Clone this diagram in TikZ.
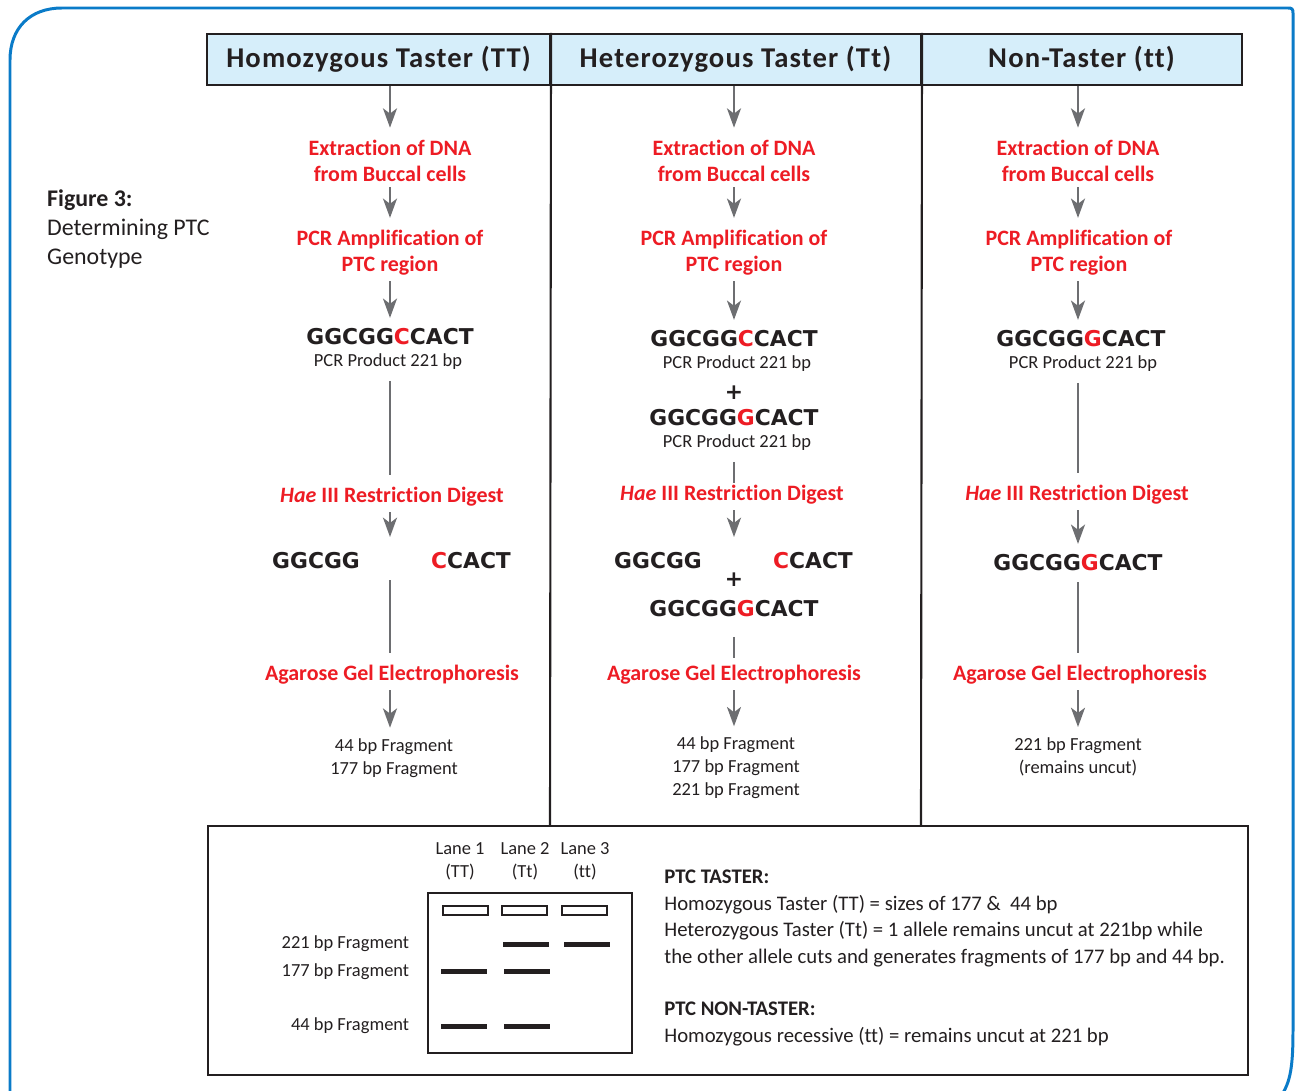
\documentclass[tikz,border=0pt]{standalone}
\usepackage{fontspec}
\setmainfont{Carlito}[Ligatures=CommonOff]
\newfontfamily\seqfont{DejaVu Sans}
\newfontfamily\headfont{Carlito}[LetterSpace=4, Ligatures=CommonOff]
\usetikzlibrary{shapes,arrows.meta}
\definecolor{ink}{HTML}{231F20}
\definecolor{snpred}{HTML}{ED1C24}
\definecolor{arrowgray}{HTML}{6D6E71}
\definecolor{headblue}{HTML}{D6EEFA}
\definecolor{frameblue}{HTML}{0A7BC8}
\newcommand{\dna}[1]{{\seqfont\bfseries #1}}
\newcommand{\snp}[1]{\textcolor{snpred}{#1}}
\tikzstyle{header} = [rectangle, draw=ink, line width=1.2pt, fill=headblue, minimum height=1.02cm, text=ink, font=\headfont\bfseries\fontsize{16.3}{19}\selectfont]
\tikzstyle{stage} = [align=center, text=snpred, inner sep=3pt, font=\bfseries\fontsize{12.5}{14.7}\selectfont]
\tikzstyle{seq} = [text=ink, inner sep=2pt, font=\seqfont\bfseries\fontsize{12.4}{14}\selectfont]
\tikzstyle{note} = [align=center, text=ink, inner sep=2pt, font=\fontsize{10.5}{13}\selectfont]
\tikzstyle{arrow} = [draw=arrowgray, line width=1.1pt, shorten >=4pt, -{Stealth[length=11pt,width=8pt,inset=3pt]}]
\tikzstyle{link} = [draw=arrowgray, line width=1.1pt, shorten <=4pt, shorten >=4pt]
\tikzstyle{frame} = [draw=ink, line width=1.2pt]
\begin{document}
\begin{tikzpicture}[x=0.02cm, y=-0.02cm]
    \useasboundingbox (0,0) rectangle (1296,1091);
    % outer border
    \begin{scope}
        \clip (0,0) rectangle (1296,1091);
        \draw[frameblue, line width=1.7pt] (10,1120) -- (10,60) .. controls (10,28) and (30,8) .. (62,8)
            -- (1288,8) .. controls (1292,8) and (1293,9) .. (1293,13) -- (1293,1030)
            .. controls (1293,1070) and (1290,1085) .. (1278,1100);
    \end{scope}

    \node[anchor=west, align=left, text=ink, font=\fontsize{13.6}{16.4}\selectfont] (caption) at (41,229)
        {\textbf{Figure 3:}\\Determining PTC\\Genotype};

    % Place nodes
    \node[header, minimum width=6.86cm] (h1) at (378.5,59.5) {Homozygous Taster (TT)};
    \node[header, minimum width=7.42cm] (h2) at (735.5,59.5) {Heterozygous Taster (Tt)};
    \node[header, minimum width=6.42cm] (h3) at (1081.5,59.5) {Non-Taster (tt)};

    \draw[frame] (h1.north east) -- (550,826);
    \draw[frame] (h2.north east) -- (921,826);

    % homozygous taster
    \node[stage] (ext1) at (390,161) {Extraction of DNA\\from Buccal cells};
    \node[stage] (pcr1) at (390,253) {PCR Amplification of\\PTC region};
    \node[seq] (seq1) at (390,337) {GGCGG\snp{C}CACT};
    \node[note] (prod1) at (388,362) {PCR Product 221 bp};
    \node[stage] (hae1) at (392,497) {\textit{Hae} III Restriction Digest};
    \node[seq] (left1) at (316,561) {GGCGG};
    \node[seq] (right1) at (471,561) {\snp{C}CACT};
    \coordinate (cut1a) at (390,544);
    \coordinate (cut1b) at (390,573);
    \node[stage] (agar1) at (392,675) {Agarose Gel Electrophoresis};
    \node[note] (frag1) at (394,758) {44 bp Fragment\\177 bp Fragment};

    \draw[arrow] (h1.south -| ext1) -- (ext1);
    \draw[arrow] (ext1) -- (pcr1);
    \draw[arrow] (pcr1) -- (seq1);
    \draw[link] (prod1.south -| cut1a) -- (hae1.north -| cut1a);
    \draw[arrow] (hae1.south -| cut1a) -- (cut1a);
    \draw[link] (cut1b) -- (agar1.north -| cut1b);
    \draw[arrow] (agar1.south -| cut1b) -- (frag1.north -| cut1b);

    % heterozygous taster
    \node[stage] (ext2) at (734,161) {Extraction of DNA\\from Buccal cells};
    \node[stage] (pcr2) at (734,253) {PCR Amplification of\\PTC region};
    \node[seq] (seq2a) at (734,339) {GGCGG\snp{C}CACT};
    \node[note] (prod2a) at (737,364) {PCR Product 221 bp};
    \node[seq] (plus2a) at (734,393) {+};
    \node[seq] (seq2b) at (734,418) {GGCGG\snp{G}CACT};
    \node[note] (prod2b) at (737,443) {PCR Product 221 bp};
    \node[stage] (hae2) at (732,495) {\textit{Hae} III Restriction Digest};
    \node[seq] (left2) at (658,561) {GGCGG};
    \node[seq] (right2) at (813,561) {\snp{C}CACT};
    \coordinate (cut2) at (734,544);
    \node[seq] (plus2b) at (734,580) {+};
    \node[seq] (seq2c) at (734,609) {GGCGG\snp{G}CACT};
    \node[stage] (agar2) at (734,675) {Agarose Gel Electrophoresis};
    \node[note] (frag2) at (736,768) {44 bp Fragment\\177 bp Fragment\\221 bp Fragment};

    \draw[arrow] (h2.south -| ext2) -- (ext2);
    \draw[arrow] (ext2) -- (pcr2);
    \draw[arrow] (pcr2) -- (seq2a);
    \draw[link, shorten >=-2pt] (prod2b.south -| cut2) -- (hae2.north -| cut2);
    \draw[arrow] (hae2.south -| cut2) -- (cut2);
    \draw[link, shorten <=9pt, shorten >=1pt] (seq2c) -- (agar2);
    \draw[arrow] (agar2) -- (frag2.north -| agar2);

    % non-taster
    \node[stage] (ext3) at (1078,161) {Extraction of DNA\\from Buccal cells};
    \node[stage] (pcr3) at (1079,253) {PCR Amplification of\\PTC region};
    \node[seq] (seq3) at (1081,339) {GGCGG\snp{G}CACT};
    \node[note] (prod3) at (1083,364) {PCR Product 221 bp};
    \node[stage] (hae3) at (1077,495) {\textit{Hae} III Restriction Digest};
    \node[seq] (dig3) at (1078,563) {GGCGG\snp{G}CACT};
    \node[stage] (agar3) at (1080,675) {Agarose Gel Electrophoresis};
    \node[note] (frag3) at (1078,757) {221 bp Fragment\\(remains uncut)};

    \draw[arrow] (h3.south -| ext3) -- (ext3);
    \draw[arrow] (ext3) -- (pcr3.north -| ext3);
    \draw[arrow] (pcr3.south -| ext3) -- (seq3.north -| ext3);
    \draw[link] (prod3.south -| ext3) -- (hae3.north -| ext3);
    \draw[arrow] (hae3.south -| ext3) -- (dig3.north -| ext3);
    \draw[link] (dig3.south -| ext3) -- (agar3.north -| ext3);
    \draw[arrow] (agar3.south -| ext3) -- (frag3.north -| ext3);

    % gel summary
    \draw[frame] (208,826) rectangle (1248,1075);
    \draw[frame, line width=1.1pt] (428,893) rectangle (632,1053);
    \node[note] (lane1) at (460,861) {Lane 1\\(TT)};
    \node[note] (lane2) at (525,861) {Lane 2\\(Tt)};
    \node[note] (lane3) at (585,861) {Lane 3\\(tt)};
    \foreach \x in {443,502,562}
        \draw[ink, line width=1pt] (\x,906) rectangle ++(45,9);
    \foreach \x/\y in {503/944, 564/944, 441/971, 504/971, 441/1026, 504/1026}
        \fill[ink] (\x,\y-2.5) rectangle ++(46,5);
    \node[note, anchor=east] (b221) at (413,944) {221 bp Fragment};
    \node[note, anchor=east] (b177) at (413,972) {177 bp Fragment};
    \node[note, anchor=east] (b44) at (413,1026) {44 bp Fragment};

    \node[anchor=north west, align=left, text=ink, inner sep=0pt, font=\fontsize{11.8}{15}\selectfont] (key) at (664,870)
        {\textbf{PTC TASTER:}\\
         Homozygous Taster (TT) = sizes of 177 \&\ \ 44 bp\\
         Heterozygous Taster (Tt) = 1 allele remains uncut at 221bp while\\
         the other allele cuts and generates fragments of 177 bp and 44 bp.\\[15pt]
         \textbf{PTC NON-TASTER:}\\
         Homozygous recessive (tt) = remains uncut at 221 bp};
\end{tikzpicture}
\end{document}
